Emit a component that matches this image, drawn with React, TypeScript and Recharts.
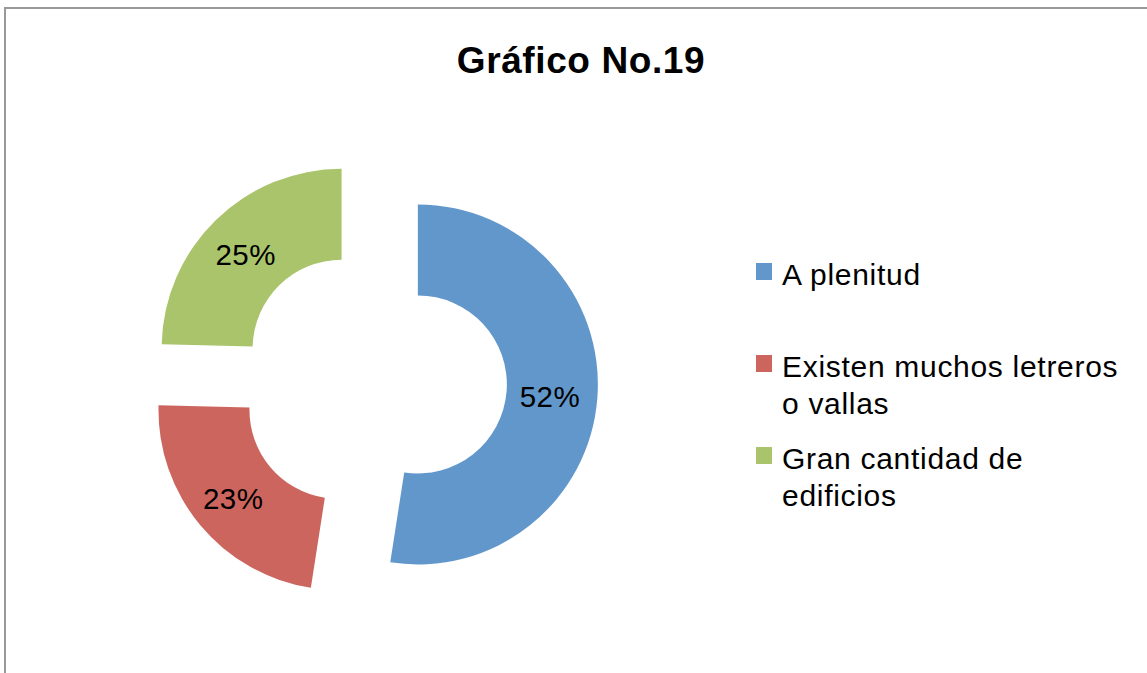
import { PieChart, Pie, Cell, Sector, Legend } from "recharts";

const title = "Gráfico No.19";
const categories = ["A plenitud", "Existen muchos letreros o vallas", "Gran cantidad de edificios"];
const shares = [52.45, 22.95, 24.6];
const colors = ["#6197CB", "#CD655F", "#AAC46C"];

const data = categories.map((name, i) => ({ name, value: shares[i] }));

const FONT = '"Liberation Sans", Arial, sans-serif';
// Excel-style explosion: every slice slides out along its mid angle.
const EXPLODE = 45;
const RAD = Math.PI / 180;

function shift(midAngle: number, dist: number) {
  return { dx: dist * Math.cos(-midAngle * RAD), dy: dist * Math.sin(-midAngle * RAD) };
}

function ExplodedSector(props: any) {
  const { cx, cy, midAngle, innerRadius, outerRadius, startAngle, endAngle, fill } = props;
  const { dx, dy } = shift(midAngle, EXPLODE);
  return (
    <Sector
      cx={cx + dx}
      cy={cy + dy}
      innerRadius={innerRadius}
      outerRadius={outerRadius}
      startAngle={startAngle}
      endAngle={endAngle}
      fill={fill}
      stroke="none"
    />
  );
}

function PercentLabel(props: any) {
  const { cx, cy, midAngle, innerRadius, outerRadius, percent } = props;
  const { dx, dy } = shift(midAngle, EXPLODE + (innerRadius + outerRadius) / 2);
  return (
    <text
      x={cx + dx - 2}
      y={cy + dy + 2}
      textAnchor="middle"
      dominantBaseline="central"
      fontFamily={FONT}
      fontSize={29.5}
      letterSpacing={0.5}
      fill="#000"
    >
      {Math.round(percent * 100)}%
    </text>
  );
}

function LegendList() {
  return (
    <div style={{ position: "relative", fontFamily: FONT, fontSize: 30, letterSpacing: 0.7, lineHeight: "36.5px", color: "#000" }}>
      {categories.map((c, i) => (
        <div key={c} style={{ position: "absolute", top: i * 92, left: 0, display: "flex", alignItems: "flex-start" }}>
          <span style={{ width: 16, height: 17, marginTop: 6, marginRight: 10, background: colors[i], flex: "none" }} />
          <span style={{ width: 345 }}>{c}</span>
        </div>
      ))}
    </div>
  );
}

export default function App() {
  return (
    <div style={{ position: "absolute", left: 0, top: 0, width: 1147, height: 673, background: "#fff", overflow: "hidden" }}>
      <PieChart width={1147} height={673} margin={{ top: 0, right: 0, bottom: 0, left: 0 }}>
        <rect x={5} y={8} width={1300} height={800} fill="none" stroke="#999" strokeWidth={2} />
        <text x={581} y={73} textAnchor="middle" fontFamily={FONT} fontWeight="bold" fontSize={37} letterSpacing={0.6} fill="#000">
          {title}
        </text>
        <Pie
          data={data}
          dataKey="value"
          nameKey="name"
          cx={373}
          cy={381}
          innerRadius={89}
          outerRadius={180}
          startAngle={90}
          endAngle={-270}
          stroke="none"
          shape={ExplodedSector}
          label={PercentLabel}
          labelLine={false}
          isAnimationActive={false}
        >
          {data.map((d, i) => (
            <Cell key={d.name} fill={colors[i]} />
          ))}
        </Pie>
        <Legend
          layout="vertical"
          align="right"
          verticalAlign="top"
          wrapperStyle={{ left: 756, top: 257, width: 380 }}
          content={() => <LegendList />}
        />
      </PieChart>
    </div>
  );
}
